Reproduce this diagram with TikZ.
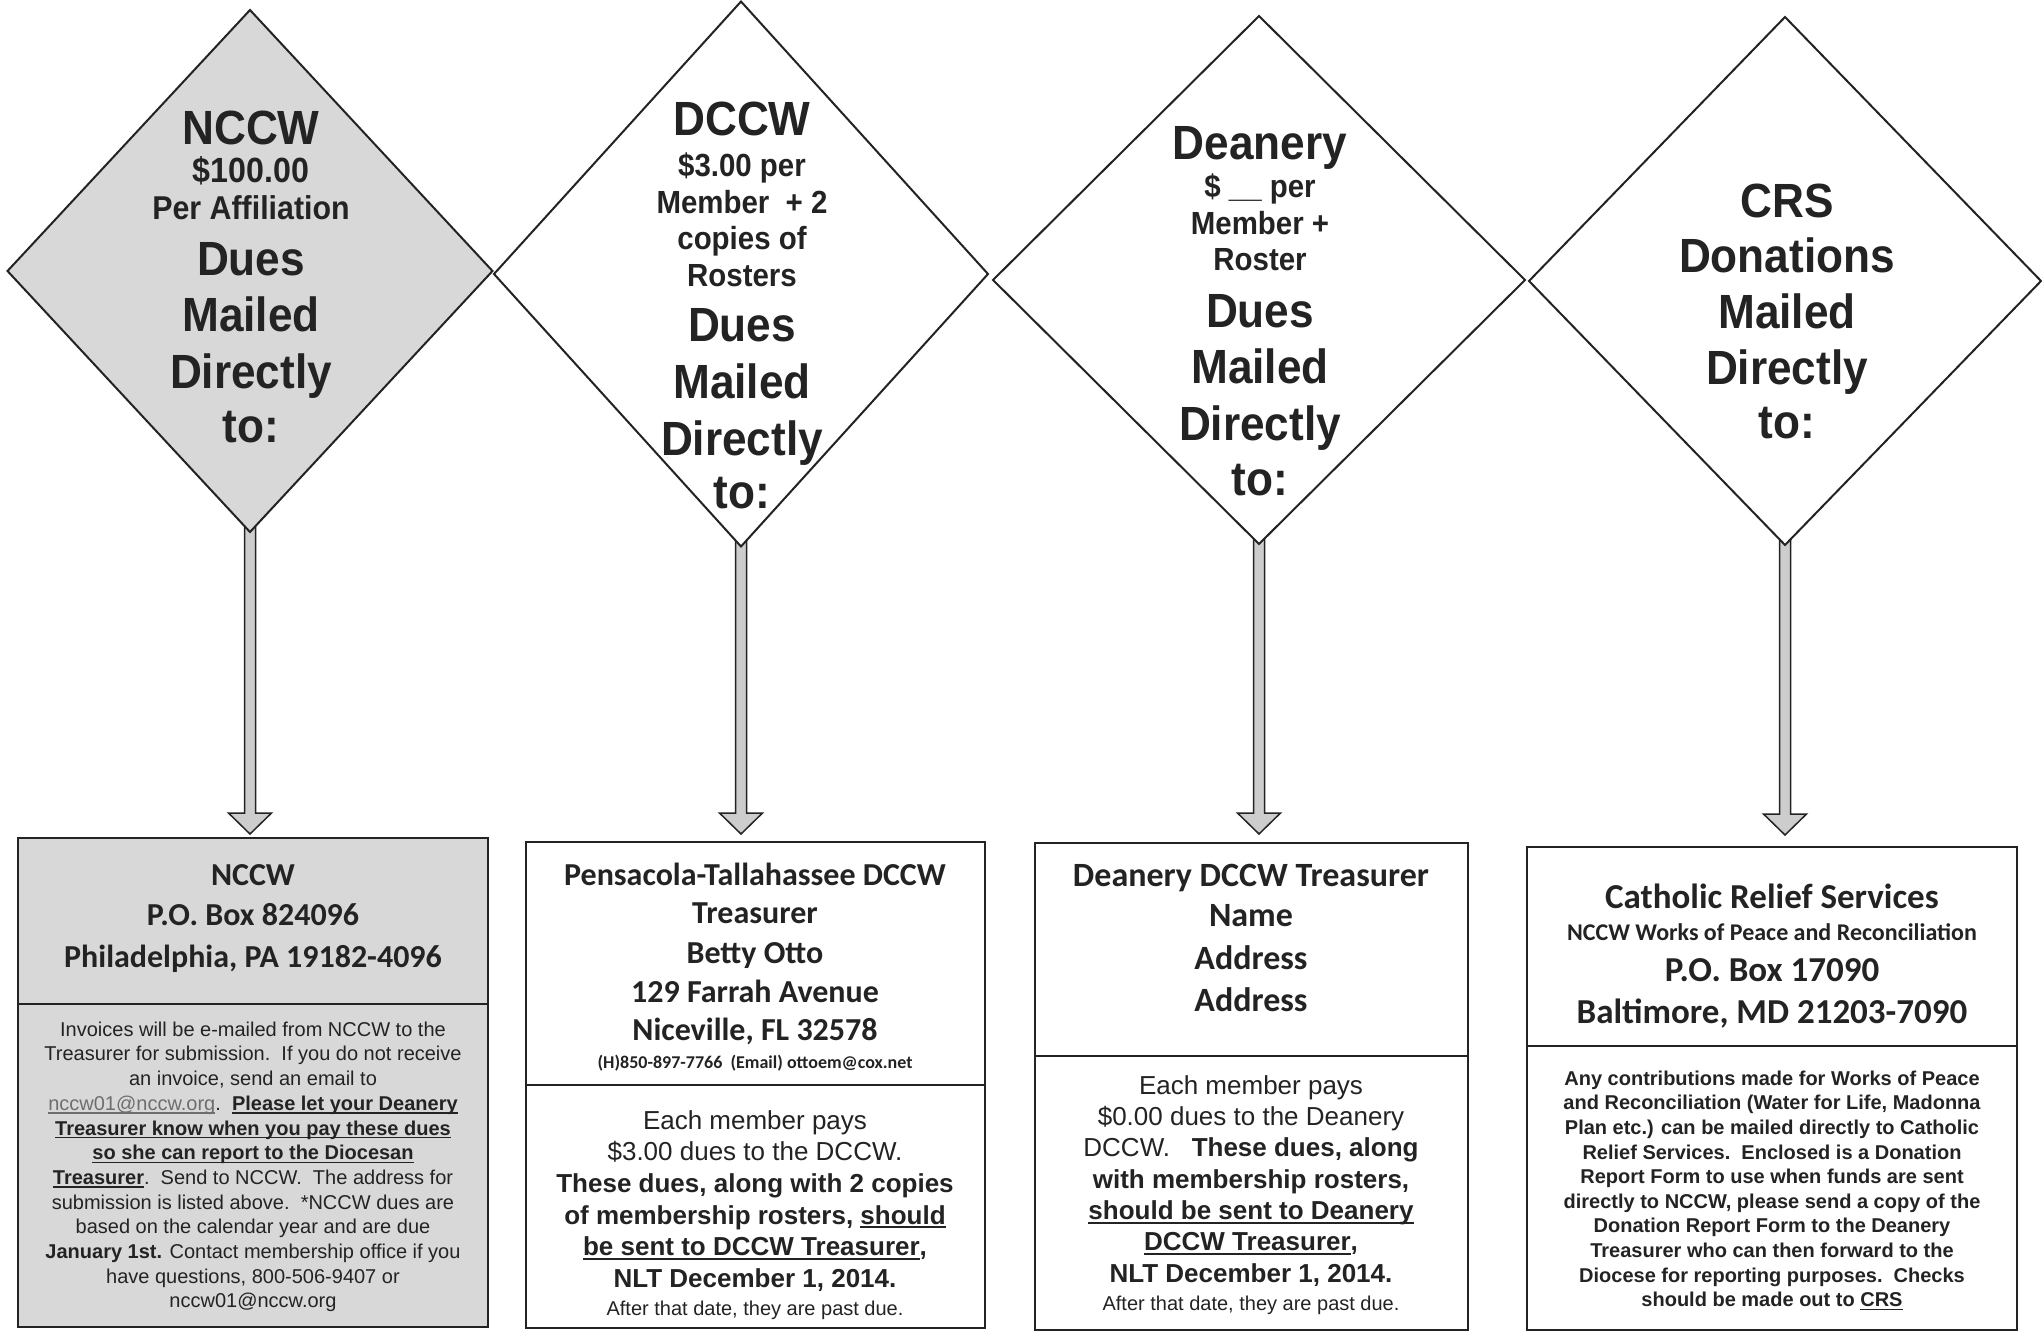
\documentclass[tikz,border=0pt]{standalone}
\usepackage{fontspec}
\setmainfont{Liberation Sans}
\newfontfamily\arialc[FakeStretch=0.92]{Liberation Sans}
\newfontfamily\calib{Carlito}
\usetikzlibrary{shapes.geometric,calc}
\pgfdeclarelayer{bg}
\pgfdeclarelayer{arr}
\pgfsetlayers{bg,arr,main}
\definecolor{ink}{RGB}{35,35,35}
\definecolor{shade}{RGB}{216,216,216}
\definecolor{stemgray}{RGB}{205,205,205}
\definecolor{linkgray}{RGB}{110,110,110}
\newcommand\DiaBig{\arialc\bfseries\fontsize{48}{56}\selectfont}
\newcommand\DiaSmall{\arialc\bfseries\fontsize{32}{37}\selectfont}
\newcommand\myul[1]{\setbox0=\hbox{#1}\leavevmode\rlap{\rule[-0.17em]{\wd0}{0.075em}}\box0}
\newcommand\blockarrow[3]{%
  \begin{pgfonlayer}{arr}
  \path[arrowline] let \p1=(#1.south), \p2=(#2.north) in
    (\x1-5.5pt,\y1+20pt) -- (\x1-5.5pt,\y2+#3pt+21pt) -- (\x1-21.5pt,\y2+#3pt+21pt) -- (\x1,\y2+#3pt)
    -- (\x1+21.5pt,\y2+#3pt+21pt) -- (\x1+5.5pt,\y2+#3pt+21pt) -- (\x1+5.5pt,\y1+20pt) -- cycle;
  \end{pgfonlayer}}
\tikzset{
  dia/.style={shape=diamond, draw=ink, line width=2pt, inner sep=0pt, outer sep=0pt},
  part/.style={rectangle, draw=ink, line width=2.5pt, inner sep=0pt, outer sep=0pt, anchor=north west},
  arrowline/.style={draw=ink, line width=1.5pt, fill=stemgray, line join=miter},
  tx/.style={inner sep=0pt, anchor=base, text=ink},
  big/.style={tx, font=\DiaBig},
  small/.style={tx, font=\DiaSmall},
  addr/.style={tx, font=\calib\bfseries\fontsize{#1}{#1}\selectfont},
  para/.style={inner sep=0pt, anchor=north, text=ink, align=center},
}
\begin{document}
\begin{tikzpicture}[x=1pt,y=-1pt]
\useasboundingbox (0,0) rectangle (2042,1333);
\begin{pgfonlayer}{bg}
\fill[white] (0,0) rectangle (2042,1333);
\end{pgfonlayer}

% diamonds
\node[dia, fill=shade, minimum width=485pt, minimum height=522pt] (d1) at (250,271) {};
\node[dia, fill=white, minimum width=494pt, minimum height=545pt] (d2) at (741,274) {};
\node[dia, fill=white, minimum width=532pt, minimum height=528pt] (d3) at (1259,280) {};
\node[dia, fill=white, minimum width=512pt, minimum height=528pt] (d4) at (1785,281) {};

% boxes
\node[part, fill=shade, minimum width=470pt, minimum height=166pt] (b1t) at (18,838) {};
\node[part, fill=shade, minimum width=470pt, minimum height=323pt] (b1b) at (18,1004) {};
\node[part, fill=white, minimum width=459pt, minimum height=243pt] (b2t) at (526,842) {};
\node[part, fill=white, minimum width=459pt, minimum height=243pt] (b2b) at (526,1085) {};
\node[part, fill=white, minimum width=433pt, minimum height=213pt] (b3t) at (1035,843) {};
\node[part, fill=white, minimum width=433pt, minimum height=274pt] (b3b) at (1035,1056) {};
\node[part, fill=white, minimum width=490pt, minimum height=199pt] (b4t) at (1527,847) {};
\node[part, fill=white, minimum width=490pt, minimum height=284pt] (b4b) at (1527,1046) {};

% arrows
\blockarrow{d1}{b1t}{4}
\blockarrow{d2}{b2t}{8}
\blockarrow{d3}{b3t}{9}
\blockarrow{d4}{b4t}{12}

% diamond 1 text
\node[big] (d1a) at (251,144) {NCCW};
\node[tx, font=\arialc\bfseries\fontsize{35}{40}\selectfont] (d1b) at (251,182) {\$100.00};
\node[tx, font=\arialc\bfseries\fontsize{33}{38}\selectfont] (d1c) at (251,219) {Per Affiliation};
\node[big] (d1d) at (251,275) {Dues};
\node[big] (d1e) at (251,331) {Mailed};
\node[big] (d1f) at (251,388) {Directly};
\node[big] (d1g) at (251,442) {to:};

% diamond 2 text
\node[big] (d2a) at (742,135) {DCCW};
\node[small] (d2b) at (742,176) {\$3.00 per};
\node[small] (d2c) at (742,213) {Member\ \ + 2};
\node[small] (d2d) at (742,249) {copies of};
\node[small] (d2e) at (742,286) {Rosters};
\node[big] (d2f) at (742,341) {Dues};
\node[big] (d2g) at (742,398) {Mailed};
\node[big] (d2h) at (742,455) {Directly};
\node[big] (d2i) at (742,508) {to:};

% diamond 3 text
\node[big] (d3a) at (1260,159) {Deanery};
\node[small] (d3b) at (1260,197) {\$ \_\_ per};
\node[small] (d3c) at (1260,234) {Member +};
\node[small] (d3d) at (1260,270) {Roster};
\node[big] (d3e) at (1260,327) {Dues};
\node[big] (d3f) at (1260,383) {Mailed};
\node[big] (d3g) at (1260,440) {Directly};
\node[big] (d3h) at (1260,495) {to:};

% diamond 4 text
\node[big] (d4a) at (1787,217) {CRS};
\node[big] (d4b) at (1787,272) {Donations};
\node[big] (d4c) at (1787,328) {Mailed};
\node[big] (d4d) at (1787,384) {Directly};
\node[big] (d4e) at (1787,438) {to:};

% box 1 text
\node[addr=32] (b1l1) at (253,885) {NCCW};
\node[addr=32] (b1l2) at (253,925) {P.O. Box 824096};
\node[addr=32] (b1l3) at (253,967) {Philadelphia, PA 19182-4096};
\node[para, font=\fontsize{20}{24.7}\selectfont] (b1p) at (253,1019) {\rule{0pt}{17pt}Invoices will be e-mailed from NCCW to the\\
Treasurer for submission.\ \ If you do not receive\\
an invoice, send an email to\\
{\color{linkgray}\myul{nccw01@nccw.org}}.\ \ \myul{\bfseries Please let your Deanery}\\
\myul{\bfseries Treasurer know when you pay these dues}\\
\myul{\bfseries so she can report to the Diocesan}\\
\myul{\bfseries Treasurer}.\ \ Send to NCCW.\ \ The address for\\
submission is listed above.\ \ *NCCW dues are\\
based on the calendar year and are due\\
{\bfseries January 1st.} Contact membership office if you\\
have questions, 800-506-9407 or\\
nccw01@nccw.org};

% box 2 text
\node[addr=32] (b2l1) at (755,885) {Pensacola-Tallahassee DCCW};
\node[addr=32] (b2l2) at (755,923) {Treasurer};
\node[addr=32] (b2l3) at (755,963) {Betty Otto};
\node[addr=32] (b2l4) at (755,1002) {129 Farrah Avenue};
\node[addr=32] (b2l5) at (755,1040) {Niceville, FL 32578};
\node[addr=18] (b2l6) at (755,1068) {(H)850-897-7766\ \ (Email) ottoem@cox.net};
\node[para, font=\fontsize{26}{31.6}\selectfont] (b2p) at (755,1107) {\rule{0pt}{22pt}Each member pays\\
\$3.00 dues to the DCCW.\\
{\bfseries These dues, along with 2 copies}\\
{\bfseries of membership rosters, \myul{should}}\\
{\bfseries \myul{be sent to DCCW Treasurer},}\\
{\bfseries NLT December 1, 2014.}};
\node[tx, font=\fontsize{20}{24}\selectfont] (b2q) at (755,1315) {After that date, they are past due.};

% box 3 text
\node[addr=34] (b3l1) at (1251,886) {Deanery DCCW Treasurer};
\node[addr=34] (b3l2) at (1251,926) {Name};
\node[addr=34] (b3l3) at (1251,969) {Address};
\node[addr=34] (b3l4) at (1251,1011) {Address};
\node[para, font=\fontsize{26}{31.3}\selectfont] (b3p) at (1251,1072) {\rule{0pt}{22pt}Each member pays\\
\$0.00 dues to the Deanery\\
DCCW.\ \ \ {\bfseries These dues, along}\\
{\bfseries with membership rosters,}\\
{\bfseries \myul{should be sent to Deanery}}\\
{\bfseries \myul{DCCW Treasurer},}\\
{\bfseries NLT December 1, 2014.}};
\node[tx, font=\fontsize{20}{24}\selectfont] (b3q) at (1251,1310) {After that date, they are past due.};

% box 4 text
\node[addr=35] (b4l1) at (1772,908) {Catholic Relief Services};
\node[addr=24] (b4l2) at (1772,940) {NCCW Works of Peace and Reconciliation};
\node[addr=35] (b4l3) at (1772,981) {P.O. Box 17090};
\node[addr=35] (b4l4) at (1772,1023) {Baltimore, MD 21203-7090};
\node[para, font=\bfseries\fontsize{20}{24.6}\selectfont] (b4p) at (1772,1068) {\rule{0pt}{17pt}Any contributions made for Works of Peace\\
and Reconciliation (Water for Life, Madonna\\
Plan etc.) can be mailed directly to Catholic\\
Relief Services.\ \ Enclosed is a Donation\\
Report Form to use when funds are sent\\
directly to NCCW, please send a copy of the\\
Donation Report Form to the Deanery\\
Treasurer who can then forward to the\\
Diocese for reporting purposes.\ \ Checks\\
should be made out to \myul{CRS}};
\end{tikzpicture}
\end{document}
